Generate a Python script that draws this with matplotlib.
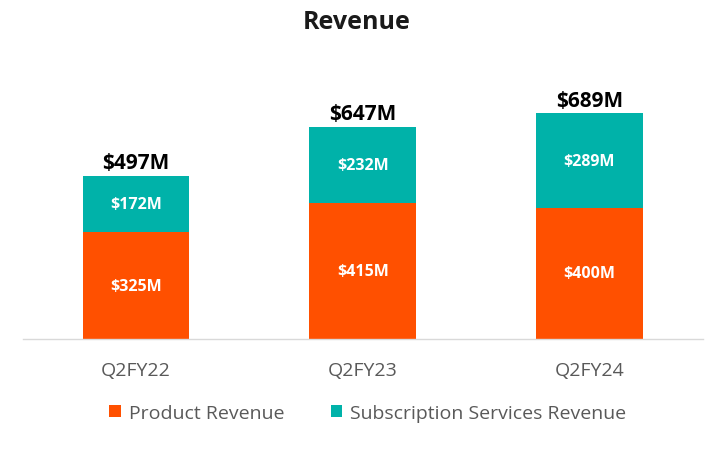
import matplotlib.pyplot as plt

plt.rcParams['font.family'] = ['Open Sans', 'DejaVu Sans']

# Data
quarters = ['Q2FY22', 'Q2FY23', 'Q2FY24']
product = [325, 415, 400]
subscription = [172, 232, 289]
totals = [497, 647, 689]

orange = '#FF5000'
teal = '#00B2A9'

fig = plt.figure(figsize=(7.14, 4.56), dpi=100)
ax = fig.add_axes([0.032, 0.2544, 0.952, 0.575])

x = range(len(quarters))
ax.bar(x, product, width=0.47, color=orange, label='Product Revenue')
ax.bar(x, subscription, width=0.47, bottom=product, color=teal,
       label='Subscription Services Revenue')

# Labels inside and on top of the bars
for i in x:
    ax.text(i, product[i] / 2, f'${product[i]}M', ha='center', va='center',
            color='white', fontsize=11.5, fontweight='bold')
    ax.text(i, product[i] + subscription[i] / 2, f'${subscription[i]}M',
            ha='center', va='center', color='white', fontsize=11.5, fontweight='bold')
    ax.text(i, totals[i] + 8, f'${totals[i]}M', ha='center', va='bottom',
            color='black', fontsize=15, fontweight='bold')

ax.set_xlim(-0.5, 2.5)
ax.set_ylim(0, 800)
ax.set_xticks(list(x))
ax.set_xticklabels(quarters, fontsize=14, color='#595959')
ax.tick_params(axis='x', length=0, pad=16)
ax.set_yticks([])
for side in ['top', 'right', 'left']:
    ax.spines[side].set_visible(False)
ax.spines['bottom'].set_color('#D9D9D9')
ax.spines['bottom'].set_linewidth(1)

fig.text(0.5, 0.95, 'Revenue', ha='center', va='center', fontsize=18,
         fontweight='bold', color='#1a1a1a')

fig.legend(loc='center', bbox_to_anchor=(0.515, 0.092), ncol=2, frameon=False,
           fontsize=14, labelcolor='#595959', handlelength=0.6, handleheight=0.6,
           handletextpad=0.4, columnspacing=2.4)

plt.savefig('out.png', dpi=100)
